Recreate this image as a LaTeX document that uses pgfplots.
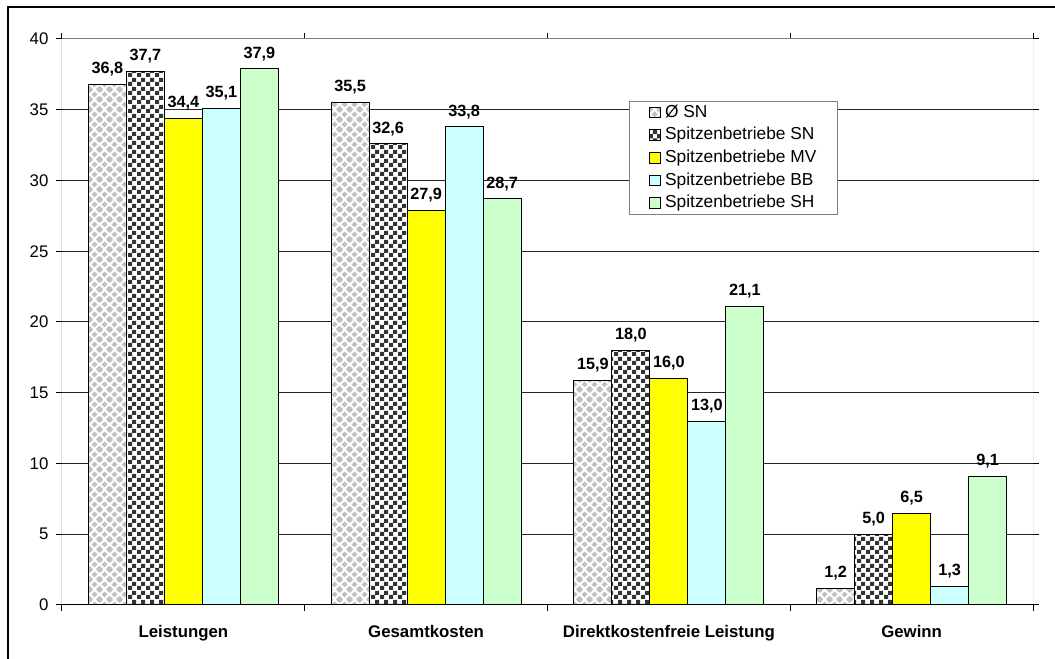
\documentclass[border=0pt]{standalone}
\usepackage{fontspec}
\setmainfont{Liberation Sans}
\usepackage{pgfplots}
\pgfplotsset{compat=1.18}
\usetikzlibrary{patterns}
\definecolor{diag}{HTML}{C0C0C0}
\definecolor{chk}{HTML}{333333}
\definecolor{cyel}{HTML}{FFFF00}
\definecolor{ccyan}{HTML}{CCFFFF}
\definecolor{cgreen}{HTML}{CCFFCC}
\newcommand\dia[2]{%
  \pgfpathmoveto{\pgfqpoint{#1pt}{\dimexpr#2pt-2.4pt\relax}}%
  \pgfpathlineto{\pgfqpoint{\dimexpr#1pt+2.4pt\relax}{#2pt}}%
  \pgfpathlineto{\pgfqpoint{#1pt}{\dimexpr#2pt+2.4pt\relax}}%
  \pgfpathlineto{\pgfqpoint{\dimexpr#1pt-2.4pt\relax}{#2pt}}%
  \pgfpathclose}
\pgfdeclarepatternformonly{diamondsSN}{\pgfpointorigin}{\pgfqpoint{7.5pt}{7.5pt}}{\pgfqpoint{7.5pt}{7.5pt}}{%
  \dia{0}{0}\dia{7.5}{0}\dia{0}{7.5}\dia{7.5}{7.5}\dia{3.75}{3.75}%
  \pgfusepath{fill}}
\pgfdeclarepatternformonly{checkSN}{\pgfpointorigin}{\pgfqpoint{6.4pt}{6.4pt}}{\pgfqpoint{6.4pt}{6.4pt}}{%
  \pgfpathrectangle{\pgfpointorigin}{\pgfqpoint{3.2pt}{3.2pt}}%
  \pgfpathrectangle{\pgfqpoint{3.2pt}{3.2pt}}{\pgfqpoint{3.2pt}{3.2pt}}%
  \pgfusepath{fill}}
\begin{document}
\begin{tikzpicture}
\useasboundingbox (0,0) rectangle (791.25pt,494.25pt);
\draw[line width=1.5pt] (6pt,-10pt) -- (6pt,489pt) -- (810pt,489pt);
\begin{axis}[
  at={(46.5pt,40.5pt)}, anchor=south west,
  scale only axis, width=728.25pt, height=424.5pt,
  xmin=-0.5, xmax=3.5, ymin=0, ymax=40,
  ybar=0pt, bar width=28.5pt,
  xtick={-0.5,0.5,1.5,2.5,3.5}, xticklabels={},
  extra x ticks={0,1,2,3},
  extra x tick labels={Leistungen,Gesamtkosten,Direktkostenfreie Leistung,Gewinn},
  extra x tick style={major tick length=0pt,
    xticklabel style={anchor=base, inner sep=0pt, yshift=-24pt, font=\fontsize{12.6}{14}\selectfont\bfseries}},
  ytick={0,5,...,40},
  yticklabels={0,5,10,15,20,25,30,35,40},
  tick align=outside, major tick length=4.5pt,
  tick style={black, line width=0.75pt},
  yticklabel style={anchor=east, inner sep=0pt, xshift=-5.5pt, font=\fontsize{12.6}{14}\selectfont},
  ymajorgrids, major grid style={black!85, line width=0.75pt},
  axis line style={draw=none},
  nodes near coords={\pgfmathprintnumber[fixed,fixed zerofill,precision=1,use comma,assume math mode=true]{\pgfplotspointmeta}},
  every node near coord/.append style={anchor=base, inner sep=0pt, yshift=8pt, font=\fontsize{12.2}{14}\selectfont\bfseries, black},
  legend image code/.code={\draw[#1] (0pt,-4pt) rectangle (8pt,4pt);},
  legend style={at={(0.5839,0.8913)}, anchor=north west, draw=gray, line width=0.75pt,
    cells={anchor=west},
    nodes={inner sep=1pt, text height=9.6pt, text depth=2.8pt},
    inner xsep=15pt, inner ysep=1.5pt, row sep=2.6pt, column sep=2pt},
]
\addplot[fill=white, draw=black, line width=0.75pt, postaction={pattern=diamondsSN, pattern color=diag}]
  coordinates {(0,36.8) (1,35.5) (2,15.9) (3,1.2)};
\addlegendentry{\fontsize{13}{15}\selectfont Ø SN}
\addplot[fill=white, draw=black, line width=0.75pt, postaction={pattern=checkSN, pattern color=chk}]
  coordinates {(0,37.7) (1,32.6) (2,18.0) (3,5.0)};
\addlegendentry{\fontsize{13}{15}\selectfont Spitzenbetriebe SN}
\addplot[fill=cyel, draw=black, line width=0.75pt]
  coordinates {(0,34.4) (1,27.9) (2,16.0) (3,6.5)};
\addlegendentry{\fontsize{13}{15}\selectfont Spitzenbetriebe MV}
\addplot[fill=ccyan, draw=black, line width=0.75pt]
  coordinates {(0,35.1) (1,33.8) (2,13.0) (3,1.3)};
\addlegendentry{\fontsize{13}{15}\selectfont Spitzenbetriebe BB}
\addplot[fill=cgreen, draw=black, line width=0.75pt]
  coordinates {(0,37.9) (1,28.7) (2,21.1) (3,9.1)};
\addlegendentry{\fontsize{13}{15}\selectfont Spitzenbetriebe SH}
\draw[gray, line width=0.75pt] (rel axis cs:0,1) -- (rel axis cs:1,1) -- (rel axis cs:1,0);
\draw[black, line width=0.75pt] (rel axis cs:0,1) -- (rel axis cs:0,0) -- (rel axis cs:1,0);
\end{axis}
\end{tikzpicture}
\end{document}
